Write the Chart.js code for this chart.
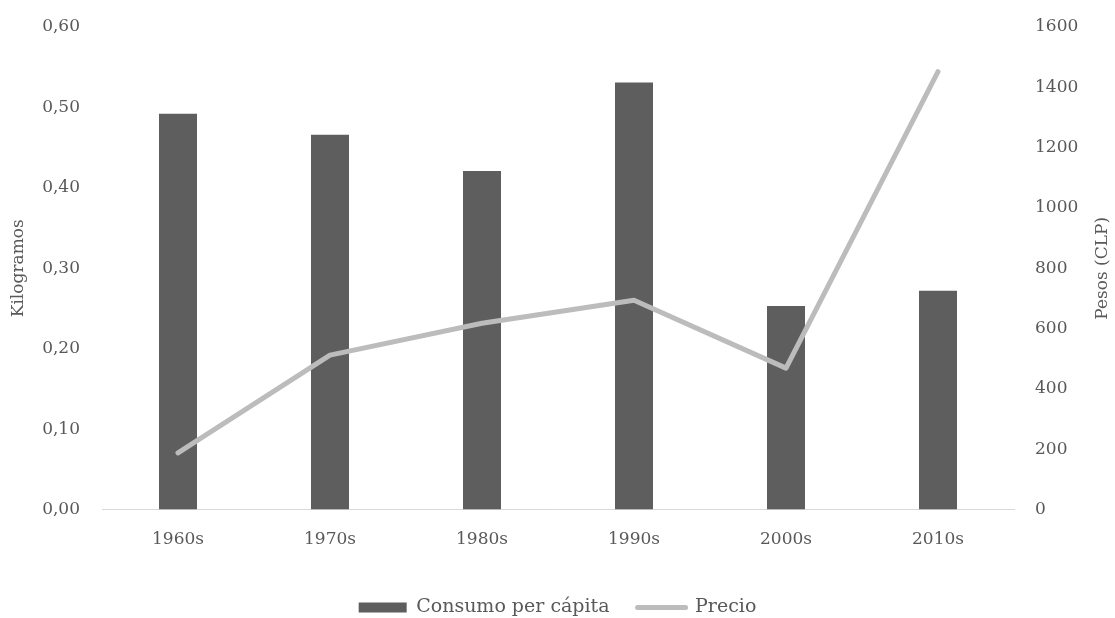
<!DOCTYPE html>
<html>
<head>
<meta charset="utf-8">
<script src="https://cdn.jsdelivr.net/npm/chart.js@4/dist/chart.umd.min.js"></script>
<style>
  html, body { margin: 0; padding: 0; background: #ffffff; }
  #wrap { width: 1115px; height: 618px; }
</style>
</head>
<body>
<div id="wrap"><canvas id="c" width="1115" height="618"></canvas></div>
<script>
// Consumo per cápita (kg) y precio (CLP) por década
const decadas = ['1960s', '1970s', '1980s', '1990s', '2000s', '2010s'];
const consumo = [0.492, 0.466, 0.421, 0.531, 0.253, 0.272];
const precio = [188, 512, 618, 694, 469, 1452];
const tituloKg = 'Kilogramos';
const tituloPesos = 'Pesos (CLP)';

const FONT = '"DejaVu Serif", "Liberation Serif", serif';
const TXT = '#595959';
const BAR = '#5e5e5e';
const LINE = '#bcbcbc';

// fixed side widths and top inset for the two value axes
function sideAxis(width) {
  return function (scale) {
    scale.width = width;
    scale.paddingTop = 27;
  };
}

// right axis title, written bottom-to-top like the left one
const rightTitle = {
  id: 'rightTitle',
  afterDraw(chart) {
    const s = chart.scales.yPrecio;
    const ctx = chart.ctx;
    ctx.save();
    ctx.translate(s.right - 12, (chart.chartArea.top + chart.chartArea.bottom) / 2);
    ctx.rotate(-Math.PI / 2);
    ctx.font = '17px ' + FONT;
    ctx.fillStyle = TXT;
    ctx.textAlign = 'center';
    ctx.textBaseline = 'middle';
    ctx.fillText(tituloPesos, 0, 0);
    ctx.restore();
  }
};

new Chart(document.getElementById('c'), {
  data: {
    labels: decadas,
    datasets: [
      {
        type: 'line',
        label: 'Precio',
        data: precio,
        yAxisID: 'yPrecio',
        borderColor: LINE,
        backgroundColor: LINE,
        borderWidth: 5,
        pointRadius: 0,
        borderCapStyle: 'round',
        borderJoinStyle: 'round',
        tension: 0,
        pointStyle: 'line',
        order: 0
      },
      {
        type: 'bar',
        label: 'Consumo per cápita',
        data: consumo,
        yAxisID: 'yKg',
        backgroundColor: BAR,
        borderWidth: 0,
        barPercentage: 0.5,
        categoryPercentage: 0.5,
        pointStyle: 'rect',
        order: 1
      }
    ]
  },
  plugins: [rightTitle],
  options: {
    responsive: false,
    animation: false,
    layout: { padding: { left: 0, right: 0, top: 0, bottom: -9 } },
    plugins: {
      legend: {
        position: 'bottom',
        reverse: true,
        labels: {
          font: { family: FONT, size: 19 },
          color: TXT,
          usePointStyle: true,
          pointStyleWidth: 48,
          boxHeight: 10,
          padding: 28,
          generateLabels(chart) {
            const items = Chart.defaults.plugins.legend.labels.generateLabels(chart);
            items.forEach(it => {
              if (it.text === 'Precio') {
                it.strokeStyle = LINE;
                it.lineWidth = 5;
                it.lineCap = 'round';
              } else {
                it.fillStyle = BAR;
                it.strokeStyle = BAR;
                it.lineWidth = 0;
              }
            });
            return items;
          }
        }
      },
      tooltip: { enabled: false }
    },
    scales: {
      x: {
        grid: { display: false, drawTicks: false },
        border: { display: true, color: '#d9d9d9', width: 1 },
        ticks: { font: { family: FONT, size: 17 }, color: TXT, padding: 20 }
      },
      yKg: {
        position: 'left',
        min: 0, max: 0.6,
        grid: { display: false, drawTicks: false },
        border: { display: false },
        ticks: {
          stepSize: 0.1,
          padding: 22,
          font: { family: FONT, size: 17 },
          color: TXT,
          callback: v => v.toFixed(2).replace('.', ',')
        },
        title: {
          display: true, text: tituloKg,
          font: { family: FONT, size: 17 }, color: TXT,
          padding: { top: 8, bottom: 0 }
        },
        afterFit: sideAxis(102)
      },
      yPrecio: {
        position: 'right',
        min: 0, max: 1600,
        grid: { display: false, drawTicks: false },
        border: { display: false },
        ticks: {
          stepSize: 200,
          padding: 21,
          font: { family: FONT, size: 17 },
          color: TXT,
          callback: v => String(v)
        },
        title: { display: false },
        afterFit: sideAxis(101)
      }
    }
  }
});
</script>
</body>
</html>
